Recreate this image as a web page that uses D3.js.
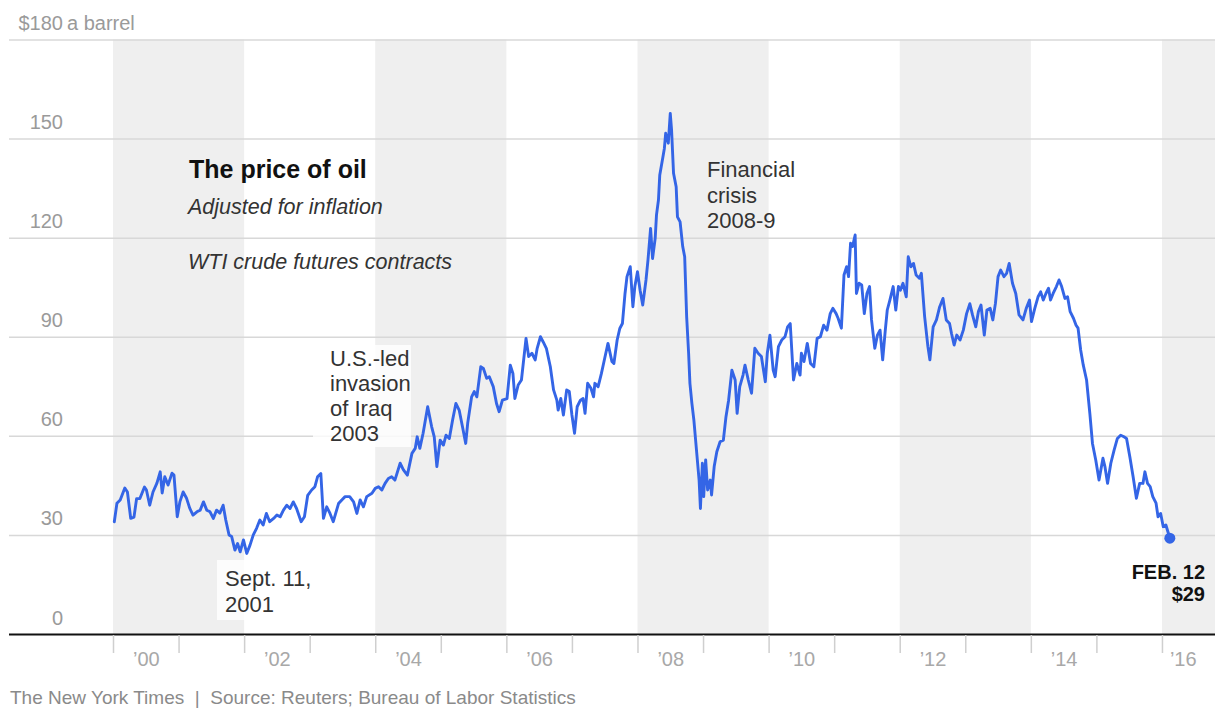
<!DOCTYPE html>
<html>
<head>
<meta charset="utf-8">
<script src="https://cdn.jsdelivr.net/npm/d3@7"></script>
<style>
  html, body { margin: 0; padding: 0; background: #fff; }
  svg { display: block; font-family: "Liberation Sans", Arial, sans-serif; }
</style>
</head>
<body>
<svg id="chart" width="1215" height="709"></svg>
<script>
// Weekly WTI crude price, inflation-adjusted ($ a barrel), as [year, price]
const oilPrice = [
  [2000.02,34.0],[2000.06,39.6],[2000.11,40.6],[2000.18,44.2],[2000.22,43.0],[2000.27,35.0],[2000.32,35.4],[2000.36,41.0],[2000.41,41.0],[2000.48,44.5],[2000.51,43.6],[2000.56,39.0],[2000.61,43.0],[2000.67,45.7],[2000.72,49.1],[2000.75,42.7],[2000.79,47.6],[2000.84,45.1],[2000.90,48.7],[2000.93,48.1],[2000.98,35.5],
  [2001.02,40.0],[2001.07,43.0],[2001.12,41.2],[2001.17,38.1],[2001.22,36.0],[2001.28,37.0],[2001.33,37.5],[2001.38,40.0],[2001.43,37.5],[2001.48,37.0],[2001.53,35.0],[2001.58,37.5],[2001.63,36.6],[2001.68,39.0],[2001.72,34.5],[2001.77,30.0],[2001.81,29.5],[2001.86,25.4],[2001.90,27.4],[2001.94,24.9],[2001.99,28.5],
  [2002.04,24.4],[2002.09,26.9],[2002.14,30.0],[2002.19,32.0],[2002.24,34.5],[2002.29,33.0],[2002.34,36.5],[2002.39,34.0],[2002.45,35.0],[2002.50,36.0],[2002.55,35.5],[2002.60,37.5],[2002.65,39.0],[2002.70,38.0],[2002.75,40.0],[2002.80,38.0],[2002.87,34.0],[2002.92,35.5],[2002.97,42.0],
  [2003.03,43.6],[2003.08,44.6],[2003.12,47.6],[2003.17,48.6],[2003.21,35.0],[2003.26,38.5],[2003.31,36.5],[2003.36,34.0],[2003.44,39.5],[2003.49,40.6],[2003.54,41.6],[2003.61,41.6],[2003.67,40.0],[2003.72,36.5],[2003.77,40.6],[2003.82,38.5],[2003.87,41.6],[2003.95,42.6],
  [2004.00,44.1],[2004.05,44.6],[2004.10,43.6],[2004.15,45.6],[2004.20,47.1],[2004.25,47.6],[2004.30,46.6],[2004.38,51.7],[2004.43,49.7],[2004.49,48.1],[2004.56,54.7],[2004.61,56.2],[2004.64,59.7],[2004.68,56.2],[2004.73,60.8],[2004.80,68.8],[2004.86,62.8],[2004.90,59.7],[2004.94,50.7],[2004.99,58.7],
  [2005.04,57.2],[2005.08,60.2],[2005.13,59.2],[2005.18,64.8],[2005.23,69.8],[2005.28,67.8],[2005.33,62.8],[2005.38,57.7],[2005.41,63.8],[2005.47,71.8],[2005.51,73.4],[2005.55,71.8],[2005.61,80.9],[2005.65,80.4],[2005.70,77.4],[2005.74,77.9],[2005.80,74.9],[2005.85,69.8],[2005.89,67.3],[2005.94,70.8],
  [2006.01,71.3],[2006.06,81.4],[2006.10,78.9],[2006.13,71.3],[2006.18,75.4],[2006.23,76.9],[2006.30,89.5],[2006.34,84.0],[2006.39,85.0],[2006.44,83.0],[2006.47,86.5],[2006.52,90.0],[2006.56,88.5],[2006.61,86.5],[2006.67,81.0],[2006.72,73.9],[2006.77,70.8],[2006.79,67.8],[2006.83,71.3],[2006.87,66.3],[2006.92,73.9],[2006.96,73.4],
  [2007.00,66.3],[2007.04,60.8],[2007.08,68.8],[2007.13,70.8],[2007.17,71.3],[2007.20,66.8],[2007.24,75.9],[2007.29,74.4],[2007.33,71.8],[2007.35,75.9],[2007.40,74.9],[2007.45,78.9],[2007.50,83.5],[2007.55,88.0],[2007.61,82.5],[2007.64,81.9],[2007.69,89.0],[2007.73,92.5],[2007.77,94.0],[2007.81,103.1],[2007.84,108.2],[2007.89,111.2],[2007.93,99.1],[2007.96,105.2],
  [2008.00,109.7],[2008.04,104.1],[2008.08,99.6],[2008.13,107.2],[2008.16,113.2],[2008.20,122.8],[2008.23,113.7],[2008.27,119.8],[2008.29,126.9],[2008.32,131.4],[2008.34,139.0],[2008.38,143.5],[2008.41,147.0],[2008.43,151.6],[2008.47,148.6],[2008.50,157.6],[2008.52,152.6],[2008.55,139.5],[2008.59,135.4],[2008.61,126.3],[2008.65,124.8],[2008.69,117.3],[2008.72,114.2],[2008.75,96.1],[2008.78,85.0],[2008.80,75.9],[2008.83,69.8],[2008.86,64.8],[2008.90,55.7],[2008.94,46.6],[2008.96,38.0],[2008.99,51.7],
  [2009.01,41.6],[2009.04,52.7],[2009.07,43.6],[2009.11,46.6],[2009.13,42.1],[2009.17,50.7],[2009.21,55.2],[2009.26,58.2],[2009.31,58.7],[2009.35,65.8],[2009.39,70.8],[2009.44,79.9],[2009.49,76.9],[2009.52,66.8],[2009.56,74.9],[2009.61,78.4],[2009.64,81.4],[2009.69,76.9],[2009.74,72.9],[2009.79,86.5],[2009.84,85.0],[2009.89,84.0],[2009.95,76.4],[2009.98,85.0],
  [2010.02,90.5],[2010.07,79.9],[2010.10,77.9],[2010.15,87.0],[2010.20,89.0],[2010.25,90.0],[2010.29,93.0],[2010.33,94.0],[2010.38,76.9],[2010.43,81.9],[2010.48,78.4],[2010.50,85.0],[2010.54,82.5],[2010.59,88.0],[2010.64,81.9],[2010.69,80.9],[2010.74,89.5],[2010.79,90.0],[2010.84,93.5],[2010.89,92.0],[2010.94,97.0],[2010.98,98.6],
  [2011.03,97.0],[2011.06,95.6],[2011.11,92.6],[2011.15,108.7],[2011.19,111.2],[2011.22,108.2],[2011.25,118.3],[2011.28,117.3],[2011.32,120.8],[2011.34,103.1],[2011.38,106.2],[2011.42,105.7],[2011.46,97.0],[2011.50,103.1],[2011.54,105.2],[2011.57,95.1],[2011.62,86.5],[2011.66,90.5],[2011.70,92.0],[2011.74,83.0],[2011.78,92.0],[2011.81,98.1],[2011.85,101.1],[2011.90,105.2],[2011.94,98.1],[2011.98,105.2],
  [2012.01,104.1],[2012.05,106.2],[2012.10,102.1],[2012.13,114.2],[2012.17,111.2],[2012.21,112.2],[2012.25,108.7],[2012.30,107.7],[2012.33,109.2],[2012.38,96.1],[2012.43,87.0],[2012.46,83.0],[2012.51,93.0],[2012.56,95.1],[2012.61,99.1],[2012.66,101.6],[2012.71,95.1],[2012.76,94.0],[2012.79,91.0],[2012.83,87.5],[2012.87,90.5],[2012.92,89.0],[2012.97,92.0],
  [2013.02,97.0],[2013.07,100.0],[2013.11,96.6],[2013.16,93.0],[2013.20,97.6],[2013.24,99.6],[2013.29,90.5],[2013.33,98.1],[2013.38,98.6],[2013.42,95.1],[2013.46,100.1],[2013.50,108.2],[2013.54,110.2],[2013.59,108.2],[2013.63,109.2],[2013.67,112.2],[2013.72,106.2],[2013.77,103.1],[2013.82,96.6],[2013.88,95.1],[2013.93,98.6],[2013.98,101.1],
  [2014.01,94.6],[2014.06,98.6],[2014.11,102.1],[2014.15,103.6],[2014.19,101.1],[2014.23,103.1],[2014.27,104.7],[2014.30,101.1],[2014.34,103.1],[2014.39,105.2],[2014.43,107.2],[2014.47,105.2],[2014.52,101.6],[2014.56,102.1],[2014.60,97.6],[2014.65,95.6],[2014.69,93.5],[2014.72,92.6],[2014.76,86.0],[2014.80,81.4],[2014.85,76.9],[2014.90,66.8],[2014.94,57.7],[2014.99,52.7],
  [2015.04,46.6],[2015.10,53.2],[2015.13,50.7],[2015.17,45.6],[2015.22,51.7],[2015.27,55.7],[2015.32,59.2],[2015.37,60.2],[2015.42,59.7],[2015.46,59.2],[2015.51,53.7],[2015.56,47.6],[2015.61,41.1],[2015.66,45.6],[2015.71,45.6],[2015.74,49.1],[2015.78,45.6],[2015.82,44.6],[2015.86,41.6],[2015.91,39.6],[2015.94,35.5],[2015.98,36.5],
  [2016.02,32.5],[2016.06,33.0],[2016.12,29.0]
];

// Axis ticks and labels
const yTicks = [0, 30, 60, 90, 120, 150, 180];
const yearTicks = d3.range(2000, 2017);          // year boundaries
const labelYears = d3.range(2000, 2017, 2);      // labelled years
const shadedYears = [2000, 2004, 2008, 2012, 2016]; // start of each two-year shaded band

// Text
const unitLabel = "a barrel";
const titleText = "The price of oil";
const subtitleLines = ["Adjusted for inflation", "WTI crude futures contracts"];
const notes = [
  { lines: ["Sept. 11,", "2001"] },
  { lines: ["U.S.-led", "invasion", "of Iraq", "2003"] },
  { lines: ["Financial", "crisis", "2008-9"] }
];
const lastLabel = ["FEB. 12", "$29"];
const footerText = "The New York Times  |  Source: Reuters; Bureau of Labor Statistics";

// ---------- drawing ----------
const W = 1215, H = 709;
const svg = d3.select("#chart");

const x = d3.scaleLinear().domain([2000, 2017]).range([113, 113 + 17 * 65.56]);
const y = d3.scaleLinear().domain([0, 180]).range([634, 39.5]);

const GREY_TEXT = "#9a9a9a";
const LINE_BLUE = "#3465e6";

// shaded two-year bands
svg.append("g").selectAll("rect")
  .data(shadedYears)
  .join("rect")
  .attr("x", d => x(d))
  .attr("width", d => Math.min(x(d + 2), W) - x(d))
  .attr("y", y(180))
  .attr("height", y(0) - y(180))
  .attr("fill", "#efefef");

// horizontal grid + value labels
const gx0 = 9;
const yAxisG = svg.append("g")
  .attr("transform", `translate(${gx0},0)`)
  .call(d3.axisRight(y)
    .tickValues(yTicks)
    .tickSize(W - gx0)
    .tickFormat(d => d === 180 ? "$180" : d));
yAxisG.select(".domain").remove();
yAxisG.selectAll(".tick line")
  .attr("stroke", d => d === 0 ? "#111" : "#d8d8d8")
  .attr("stroke-width", d => d === 0 ? 2 : 1.5);
yAxisG.selectAll(".tick text")
  .attr("x", 63 - gx0)
  .attr("dy", -10)
  .attr("text-anchor", "end")
  .attr("fill", GREY_TEXT)
  .attr("font-size", 20)
  .attr("font-family", "Liberation Sans, Arial, sans-serif");
svg.append("text")
  .attr("x", 67).attr("y", y(180) - 10)
  .attr("fill", GREY_TEXT).attr("font-size", 20)
  .text(unitLabel);

// year boundary ticks
const tickG = svg.append("g")
  .attr("transform", `translate(0,${y(0) + 1})`)
  .call(d3.axisBottom(x).tickValues(yearTicks).tickSize(18).tickFormat(""));
tickG.select(".domain").remove();
tickG.selectAll(".tick line").attr("stroke", "#cfcfcf").attr("stroke-width", 1.5);

// year labels centred in their year
const labG = svg.append("g")
  .attr("transform", `translate(0,${y(0)})`)
  .call(d3.axisBottom(x)
    .tickValues(labelYears.map(d => d + 0.5))
    .tickSize(0).tickPadding(18)
    .tickFormat(d => "\u2019" + String(Math.floor(d)).slice(2)));
labG.select(".domain").remove();
labG.selectAll(".tick text")
  .attr("fill", "#a8a8a8")
  .attr("font-size", 20)
  .attr("font-family", "Liberation Sans, Arial, sans-serif");
// keep the final label inside the frame
labG.selectAll(".tick").filter(d => Math.floor(d) === 2016)
  .select("text").attr("x", -12);

// annotation layout (pixel positions of the first baseline)
const noteLayout = [
  { x: 225, y: 586, lh: 25.5, box: [217, 560, 106, 60] },
  { x: 330, y: 366, lh: 25, box: [313, 345, 98, 102] },
  { x: 707, y: 177, lh: 25.5, box: null }
];

notes.forEach((n, i) => {
  const L = noteLayout[i];
  if (L.box) {
    svg.append("rect")
      .attr("x", L.box[0]).attr("y", L.box[1])
      .attr("width", L.box[2]).attr("height", L.box[3])
      .attr("fill", "#fff").attr("fill-opacity", 0.8);
  }
});

// price line
const line = d3.line().x(d => x(d[0])).y(d => y(d[1]));
svg.append("path")
  .datum(oilPrice)
  .attr("d", line)
  .attr("fill", "none")
  .attr("stroke", LINE_BLUE)
  .attr("stroke-width", 2.9)
  .attr("stroke-linejoin", "round")
  .attr("stroke-linecap", "round");

// latest value marker
const last = oilPrice[oilPrice.length - 1];
svg.append("circle")
  .attr("cx", x(last[0])).attr("cy", y(last[1]))
  .attr("r", 5.5).attr("fill", LINE_BLUE);

// annotation text
notes.forEach((n, i) => {
  const L = noteLayout[i];
  const t = svg.append("text")
    .attr("font-size", 22).attr("fill", "#333");
  n.lines.forEach((s, j) => {
    t.append("tspan").attr("x", L.x).attr("y", L.y + j * L.lh).text(s);
  });
});

// title block
svg.append("text")
  .attr("x", 189).attr("y", 178)
  .attr("font-size", 25).attr("font-weight", "bold").attr("fill", "#111")
  .text(titleText);
subtitleLines.forEach((s, j) => {
  svg.append("text")
    .attr("x", 188).attr("y", j === 0 ? 214 : 269)
    .attr("font-size", 21.5).attr("font-style", "italic").attr("fill", "#333")
    .text(s);
});

// latest value label
const ll = svg.append("text")
  .attr("text-anchor", "end").attr("font-weight", "bold")
  .attr("font-size", 20).attr("fill", "#111");
lastLabel.forEach((s, j) => {
  ll.append("tspan").attr("x", 1205).attr("y", 579 + j * 22).text(s);
});

// footer
svg.append("text")
  .attr("x", 10).attr("y", 704)
  .attr("font-size", 19).attr("fill", "#8a8a8a")
  .attr("xml:space", "preserve")
  .style("white-space", "pre")
  .text(footerText);
</script>
</body>
</html>
